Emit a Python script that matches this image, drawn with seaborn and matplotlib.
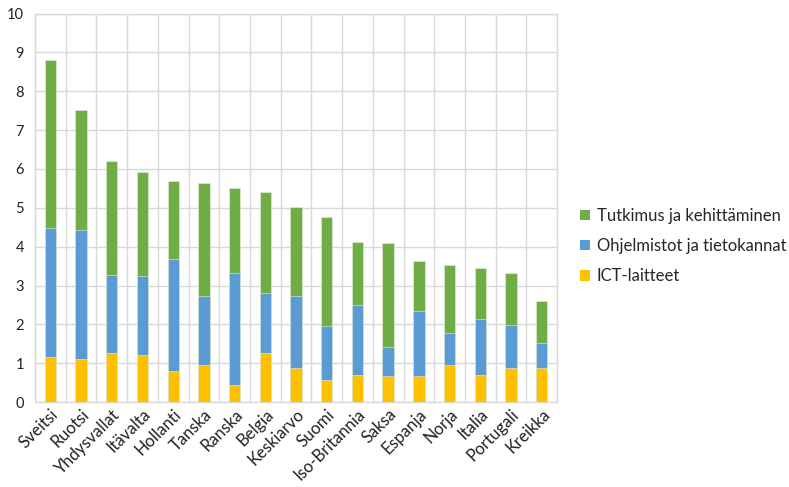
import matplotlib
matplotlib.use("Agg")
import matplotlib.pyplot as plt
from matplotlib.patches import Patch
import numpy as np
import pandas as pd
import seaborn as sns

countries = ["Sveitsi", "Ruotsi", "Yhdysvallat", "Itävalta", "Hollanti", "Tanska",
             "Ranska", "Belgia", "Keskiarvo", "Suomi", "Iso-Britannia", "Saksa",
             "Espanja", "Norja", "Italia", "Portugali", "Kreikka"]
ict = [1.16, 1.12, 1.27, 1.20, 0.81, 0.95, 0.45, 1.27, 0.88, 0.56, 0.70, 0.67,
       0.67, 0.95, 0.70, 0.88, 0.88]
software = [3.33, 3.30, 1.99, 2.04, 2.86, 1.79, 2.86, 1.53, 1.86, 1.39, 1.79, 0.74,
            1.67, 0.82, 1.43, 1.10, 0.64]
rnd = [4.32, 3.10, 2.94, 2.67, 2.03, 2.89, 2.21, 2.62, 2.28, 2.82, 1.64, 2.68,
       1.28, 1.75, 1.32, 1.33, 1.08]

labels = ["Tutkimus ja kehittäminen", "Ohjelmistot ja tietokannat", "ICT-laitteet"]
colors = ["#70AD47", "#5B9BD5", "#FFC000"]

sns.set_theme(style="white")
plt.rcParams["font.family"] = ["Lato", "DejaVu Sans"]

df = pd.DataFrame({"maa": countries, "ict": ict, "ohj": software, "tk": rnd})
df["lvl_ict"] = df["ict"]
df["lvl_ohj"] = df["ict"] + df["ohj"]
df["lvl_tk"] = df["lvl_ohj"] + df["tk"]

fig = plt.figure(figsize=(7.89, 4.87), dpi=100)
ax = fig.add_axes([0.0444, 0.1745, 0.6616, 0.7975])

for col, c in zip(["lvl_tk", "lvl_ohj", "lvl_ict"], colors):
    sns.barplot(data=df, x="maa", y=col, color=c, width=0.37, ax=ax,
                edgecolor="#e8f0e0", linewidth=0.4, saturation=1, zorder=3)

ax.set_xlim(-0.5, len(countries) - 0.5)
ax.set_ylim(0, 10)
ax.set_yticks(np.arange(0, 11, 1))
ax.set_xticks(np.arange(-0.5, len(countries), 1), minor=True)
ax.grid(True, axis="y", which="major", color="#d9d9d9", linewidth=1.0, zorder=0)
ax.grid(True, axis="x", which="minor", color="#d9d9d9", linewidth=1.0, zorder=0)
ax.grid(False, axis="x", which="major")
ax.set_axisbelow(True)
for s in ax.spines.values():
    s.set_visible(True)
    s.set_color("#d9d9d9")
    s.set_linewidth(1.0)
ax.set_xlabel("")
ax.set_ylabel("")
ax.tick_params(axis="both", which="both", length=0, colors="#222222")
ax.tick_params(axis="y", labelsize=10.5, pad=8)
ax.tick_params(axis="x", labelsize=12, pad=3)
plt.setp(ax.get_xticklabels(), rotation=45, ha="right", rotation_mode="anchor")

handles = [Patch(facecolor=c, edgecolor="none") for c in colors]
fig.legend(handles, labels, loc="center left", bbox_to_anchor=(0.716, 0.495),
           frameon=False, fontsize=12, handlelength=0.6, handleheight=0.6,
           handletextpad=0.4, labelspacing=0.85)

fig.savefig("out.png", dpi=100)
